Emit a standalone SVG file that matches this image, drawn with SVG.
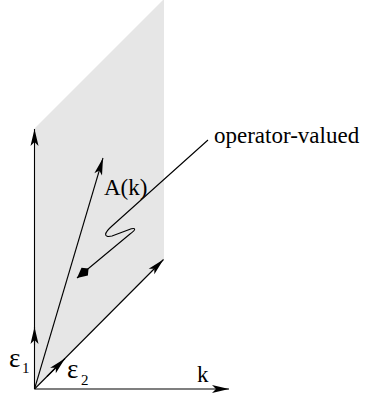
<svg xmlns="http://www.w3.org/2000/svg" width="368" height="396" viewBox="0 0 368 396">
<defs>
<marker id="ah" markerUnits="userSpaceOnUse" markerWidth="20" markerHeight="10" viewBox="-18 -5 20 10" refX="0" refY="0" orient="auto" overflow="visible">
<path d="M0,0 L-17,-4 L-13,0 L-17,4 Z" fill="#000"/>
</marker>
<marker id="ah2" markerUnits="userSpaceOnUse" markerWidth="20" markerHeight="12" viewBox="-18 -6 20 12" refX="0" refY="0" orient="auto" overflow="visible">
<path d="M0,0 L-10,-5 L-15,0 L-10,5 Z" fill="#000"/>
</marker>
</defs>
<style>
.ln{stroke:#000;stroke-width:1.1;fill:none}
.t{font-family:"Liberation Serif","Times New Roman",serif;font-size:23px;fill:#000}
.e{font-family:"Liberation Serif","Times New Roman",serif;font-size:27px;fill:#000}
.s{font-family:"Liberation Serif","Times New Roman",serif;font-size:15px;fill:#000}
</style>
<g id="plane">
<polygon points="34.5,128.5 164,-1 164,260 34.5,389" fill="#e6e6e6"/>
</g>
<g id="connectors">
<line class="ln" x1="34.5" y1="389" x2="34.5" y2="129" marker-end="url(#ah)"/>
<line class="ln" x1="34.5" y1="389" x2="229" y2="389" marker-end="url(#ah)"/>
<line class="ln" x1="34.5" y1="389" x2="163.5" y2="259.5" marker-end="url(#ah)"/>
<line class="ln" x1="34.5" y1="389" x2="103" y2="158" marker-end="url(#ah)"/>
<line class="ln" x1="34.5" y1="345" x2="34.5" y2="327" marker-end="url(#ah)"/>
<line class="ln" x1="47" y1="376.5" x2="65" y2="358.5" marker-end="url(#ah)"/>
<path class="ln" d="M208,140 L112,226 C104,233 103,238 112,236 L128,230 C136,227 137,229 130,234 L77,278" marker-end="url(#ah2)"/>
</g>
<g id="labels">
<text class="t" x="104" y="195">A(k)</text>
<text class="t" x="214" y="143">operator-valued</text>
<text class="t" x="197" y="382">k</text>
<text class="e" x="9" y="367">ε</text>
<text class="s" x="22" y="373">1</text>
<text class="e" x="67" y="378">ε</text>
<text class="s" x="81" y="385">2</text>
</g>
</svg>
